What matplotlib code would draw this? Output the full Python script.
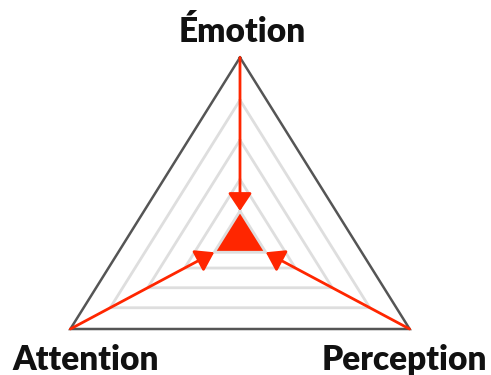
import numpy as np
import matplotlib
matplotlib.use('Agg')
import matplotlib.pyplot as plt

plt.rcParams['font.family'] = ['Lato', 'DejaVu Sans']

# axes of the radar, clockwise from the top
labels = ['Émotion', 'Perception', 'Attention']
angles_deg = [90, -30, 210]
# grid rings as fraction of the full radius (outer ring = 1.0)
grid_levels = [0.152, 0.326, 0.544, 0.765]
outer_level = 1.0
# data values (same scale), all sit on the innermost ring
values = [0.152, 0.152, 0.152]

RED = '#ff2600'
angles = np.radians(angles_deg)


def ring(r):
    r = np.broadcast_to(r, angles.shape)
    x = r * np.cos(angles)
    y = r * np.sin(angles)
    return np.append(x, x[0]), np.append(y, y[0])


fig = plt.figure(figsize=(4.91, 3.75), dpi=100)
ax = fig.add_axes([0, 0, 1, 1])
ax.set_xlim(-1.2251, 1.2813)
ax.set_ylim(-0.7541, 1.3177)
ax.axis('off')

# data area
dx, dy = ring(np.array(values))
ax.fill(dx, dy, color=RED, lw=0, zorder=1)

# grid rings
for lv in grid_levels:
    gx, gy = ring(lv)
    ax.plot(gx, gy, color='#dedede', lw=2.0, zorder=2, solid_joinstyle='miter')

# outer frame
ox, oy = ring(outer_level)
ax.plot(ox, oy, color='#555555', lw=1.8, zorder=2, solid_joinstyle='miter')

# arrows from each axis end to the data point
for i in range(3):
    ax.annotate('', xy=(dx[i], dy[i]), xytext=(ox[i], oy[i]),
                arrowprops=dict(arrowstyle='-|>,head_length=0.45,head_width=0.3',
                                mutation_scale=24, color=RED, lw=2.0,
                                shrinkA=0, shrinkB=0),
                zorder=3)

# axis labels
offsets = [(1.5, 18.5), (-3.5, -22.5), (11, -22.5)]
for i, lab in enumerate(labels):
    ax.annotate(lab, xy=(ox[i], oy[i]), xytext=offsets[i], textcoords='offset points',
                ha='center', va='center', fontsize=24, fontweight='heavy', color='#111111')

fig.savefig('out.png', dpi=100, facecolor='white')
